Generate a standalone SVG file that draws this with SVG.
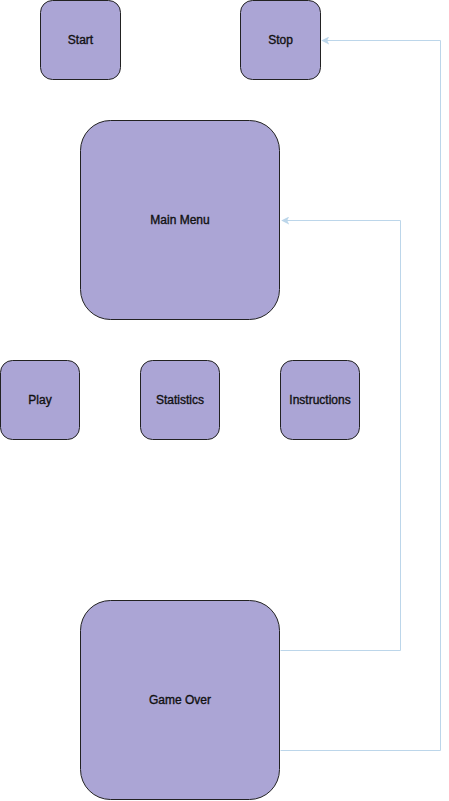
<svg xmlns="http://www.w3.org/2000/svg" width="449" height="801" viewBox="0 0 449 801">
<style>
.node rect{fill:#aba5d5;stroke:#222222;stroke-width:1}
.node text{font-family:"Liberation Sans",Arial,sans-serif;font-size:12px;fill:#111111;stroke:#111111;stroke-width:0.35;text-anchor:middle;dominant-baseline:central}
.edge{fill:none;stroke:#bcd6ea;stroke-width:1}
</style>
<defs>
<marker id="arr" viewBox="0 0 10 10" refX="9" refY="5" markerWidth="8" markerHeight="8" markerUnits="userSpaceOnUse" orient="auto">
<path d="M0,0 L10,5 L0,10 L2.5,5 Z" fill="#bcd6ea"/>
</marker>
</defs>
<rect width="449" height="801" fill="#ffffff"/>
<g id="connectors">
<path class="edge" d="M280.5,650.5 H400.5 V220.5 H282" marker-end="url(#arr)"/>
<path class="edge" d="M280.5,750.5 H440.5 V40.5 H322" marker-end="url(#arr)"/>
</g>
<g id="start" class="node"><rect x="40.5" y="0.5" width="80" height="79" rx="12"/><text x="80.5" y="40">Start</text></g>
<g id="stop" class="node"><rect x="240.5" y="0.5" width="80" height="79" rx="12"/><text x="280.5" y="40">Stop</text></g>
<g id="main-menu" class="node"><rect x="80.5" y="120.5" width="199" height="199" rx="30"/><text x="180" y="220">Main Menu</text></g>
<g id="play" class="node"><rect x="0.5" y="360.5" width="79" height="79" rx="12"/><text x="40" y="400">Play</text></g>
<g id="statistics" class="node"><rect x="140.5" y="360.5" width="79" height="79" rx="12"/><text x="180" y="400">Statistics</text></g>
<g id="instructions" class="node"><rect x="280.5" y="360.5" width="79" height="79" rx="12"/><text x="320" y="400">Instructions</text></g>
<g id="game-over" class="node"><rect x="80.5" y="600.5" width="199" height="199" rx="30"/><text x="180" y="700">Game Over</text></g>
</svg>
